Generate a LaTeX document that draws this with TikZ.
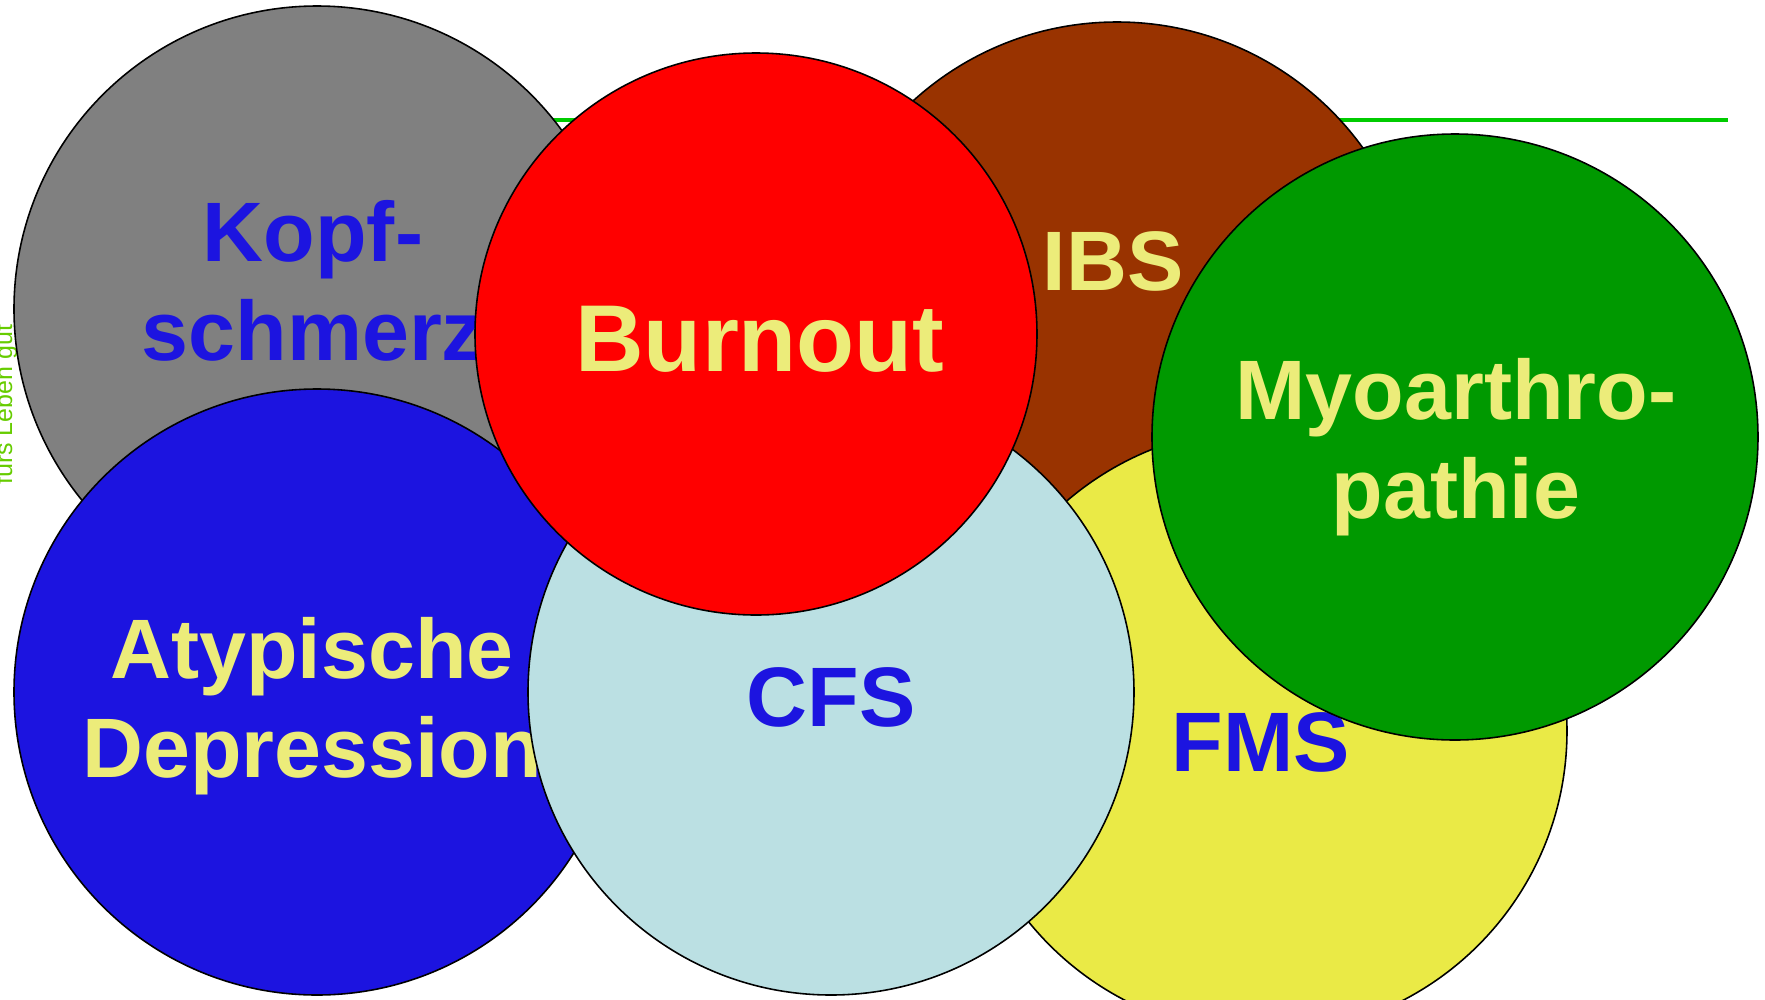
\documentclass[tikz,border=0pt]{standalone}
\usepackage{fontspec}
\setmainfont{Liberation Sans}
\definecolor{kopfgray}{RGB}{128,128,128}
\definecolor{burnred}{RGB}{255,0,0}
\definecolor{ibsbrown}{RGB}{153,51,0}
\definecolor{depblue}{RGB}{28,20,224}
\definecolor{cfsblue}{RGB}{187,224,227}
\definecolor{fmsyellow}{RGB}{234,234,70}
\definecolor{myogreen}{RGB}{0,153,0}
\definecolor{labelyellow}{RGB}{236,236,122}
\definecolor{rulegreen}{RGB}{0,204,0}
\definecolor{mottogreen}{RGB}{102,204,0}
\tikzset{
  disc/.style={draw=black, line width=0.45pt},
  lbl/.style={font=\fontsize{24}{28}\selectfont\bfseries, align=center, anchor=base},
}
\begin{document}
\begin{tikzpicture}[x=0.01cm, y=-0.01cm, line join=round, line cap=round]
					\useasboundingbox (0,0) rectangle (1765,999);
					%%%%%%%%%%%%%%%%%%%%%%%%%%%%%%%%%
					\coordinate (K) at (317,309);
					\coordinate (B) at (756,334);
					\coordinate (I) at (1117,325);
					\coordinate (D) at (317,692);
					\coordinate (C) at (831,692);
					\coordinate (F) at (1264,731);
					\coordinate (M) at (1455,437);
					\coordinate (R1) at (400,120);
					\coordinate (R2) at (1728,120);
					%%%%%%%%%%%%%%%%%%%%%%%%%%%%%%%%%
					\draw[rulegreen, line width=1.15pt, line cap=butt] (R1) -- (R2);
					\node[mottogreen, font=\fontsize{7.1}{8}\selectfont, rotate=90, anchor=base west] (motto) at (12,497) {fürs Leben gut};
					%%%%%%%%%%%%%%%%%%%%%%%%%%%%%%%%%
					\filldraw[disc, fill=kopfgray] (K) circle (303);
					\node[lbl, depblue] (kopf) at (313,360) {Kopf-\\schmerz};
					\filldraw[disc, fill=ibsbrown] (I) circle (303);
					\node[lbl, labelyellow] (ibs) at (1113,290) {IBS};
					\filldraw[disc, fill=depblue] (D) circle (303);
					\node[lbl, labelyellow] (atyp) at (312,777) {Atypische\\Depression};
					\filldraw[disc, fill=fmsyellow] (F) circle (303);
					\node[lbl, depblue] (fms) at (1261,771) {FMS};
					\filldraw[disc, fill=cfsblue] (C) circle (303);
					\node[lbl, depblue] (cfs) at (831,726) {CFS};
					\filldraw[disc, fill=burnred] (B) circle (281);
					\node[lbl, labelyellow, font=\fontsize{27}{32}\selectfont\bfseries] (burnout) at (760,371) {Burnout};
					\filldraw[disc, fill=myogreen] (M) circle (303);
					\node[lbl, labelyellow] (myo) at (1456,518) {Myoarthro-\\pathie};
					%%%%%%%%%%%%%%%%%%%%%%%%%%%%%%%%%
\end{tikzpicture}
\end{document}
